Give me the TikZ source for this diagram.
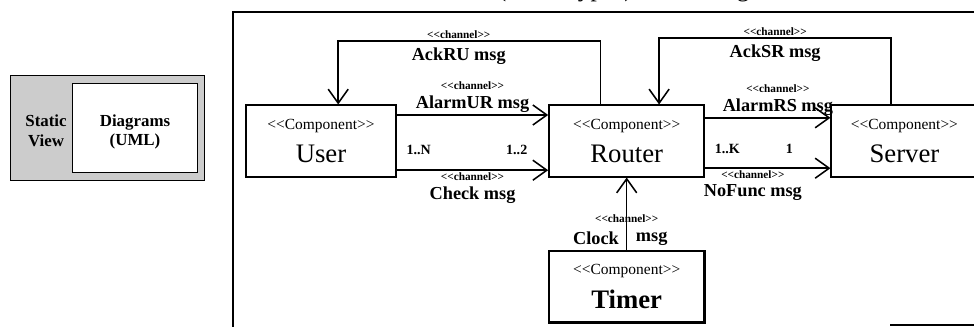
\documentclass[tikz,border=0pt]{standalone}
\usepackage{fontspec}
\setmainfont{Liberation Serif}
\usetikzlibrary{arrows.meta, positioning}

\newcommand{\stereo}[1]{<\kern0pt<#1>\kern0pt>}
\newcommand{\compname}{\fontsize{19}{21}\selectfont}

\begin{document}
\begin{tikzpicture}[
        x=0.025cm, y=-0.025cm,
        comp/.style={rectangle, draw, line width=1.3pt, minimum width=3.88cm, minimum height=1.78cm, align=center, inner sep=2pt, font=\fontsize{11}{24}\selectfont},
        chan/.style={-{Straight Barb[length=3.5mm, width=5mm]}, line width=1.1pt},
        chanlab/.style={font=\fontsize{8}{9}\selectfont\bfseries, inner sep=1pt},
        msglab/.style={font=\fontsize{13}{15}\selectfont\bfseries, inner sep=1pt},
        multlab/.style={font=\fontsize{10}{12}\selectfont\bfseries, inner sep=1pt},
        viewlab/.style={font=\fontsize{12}{14}\selectfont\bfseries, align=center}
    ]
    \useasboundingbox (0,0) rectangle (974,327);

    % static view panel
    \draw[fill=gray!40] (10,75) rectangle (204,180);
    \draw[fill=white] (72,83) rectangle (197,172);
    \node[viewlab] (static) at (46,131) {Static\\View};
    \node[viewlab] (diagrams) at (135,132) {Diagrams\\(UML)};

    % frame
    \node[font=\fontsize{18}{20}\selectfont, anchor=base] (title) at (612,-3) {UML (Stereotypes) Class Diagram};
    \draw[line width=1pt] (233,327) -- (233,12) -- (974,12);
    \draw[line width=1pt] (890,325) -- (974,325);

    % components
    \node[comp, minimum width=3.75cm] (user) at (321,141) {\stereo{Component}\\\compname User};
    \node[comp, right=3.78cm of user] (router) {\stereo{Component}\\\compname Router};
    \node[comp, right=3.13cm of router, minimum width=3.65cm] (server) {\stereo{Component}\\\compname Server};
    \node[comp, below=1.8cm of router, line width=2pt] (timer) {\stereo{Component}\\\compname\bfseries Timer};

    % channels
    \draw[chan] ([xshift=-0.66cm]router.north) -- ++(0,1.58cm)
        -| node[pos=0.27, above, chanlab] (ackruch) {\stereo{channel}}
           node[pos=0.27, below=3pt, msglab] (ackru) {AckRU msg}
        ([xshift=0.43cm]user.north);
    \draw[chan] ([xshift=-0.33cm]server.north) -- ++(0,1.66cm)
        -| node[pos=0.25, above, chanlab] (acksrch) {\stereo{channel}}
           node[pos=0.25, below=3pt, msglab] (acksr) {AckSR msg}
        ([xshift=0.81cm]router.north);

    \draw[chan] ([yshift=0.65cm]user.east) -- node[above, msglab] (alarmur) {AlarmUR msg} ([yshift=0.65cm]router.west);
    \node[chanlab, above=2pt of alarmur] (alarmurch) {\stereo{channel}};
    \draw[chan] ([yshift=-0.73cm]user.east) -- node[below, chanlab] (checkch) {\stereo{channel}} ([yshift=-0.73cm]router.west);
    \node[msglab, below=2pt of checkch] (check) {Check msg};

    \draw[chan] ([yshift=0.58cm]router.east) -- node[pos=0.58, above, msglab] (alarmrs) {AlarmRS msg} ([yshift=0.58cm]server.west);
    \node[chanlab, above=2pt of alarmrs] (alarmrsch) {\stereo{channel}};
    \draw[chan] ([yshift=-0.68cm]router.east) -- node[pos=0.38, below, chanlab] (nofuncch) {\stereo{channel}} ([yshift=-0.68cm]server.west);
    \node[msglab, below=2pt of nofuncch] (nofunc) {NoFunc msg};

    \draw[chan] (timer.north) -- node[pos=0.15, left=4pt, msglab] (clock) {Clock}
        node[pos=0.15, right=5pt, msglab] (clockmsg) {msg}
        node[pos=0.43, chanlab] (clockch) {\stereo{channel}} (router.south);

    % multiplicities
    \node[multlab, right=0.2cm of user.east, yshift=-0.22cm] (multuser) {1..N};
    \node[multlab, left=0.48cm of router.west, yshift=-0.22cm] (multrouter) {1..2};
    \node[multlab, right=0.2cm of router.east, yshift=-0.2cm] (multrouterk) {1..K};
    \node[multlab, left=0.9cm of server.west, yshift=-0.2cm] (multserver) {1};
\end{tikzpicture}
\end{document}
